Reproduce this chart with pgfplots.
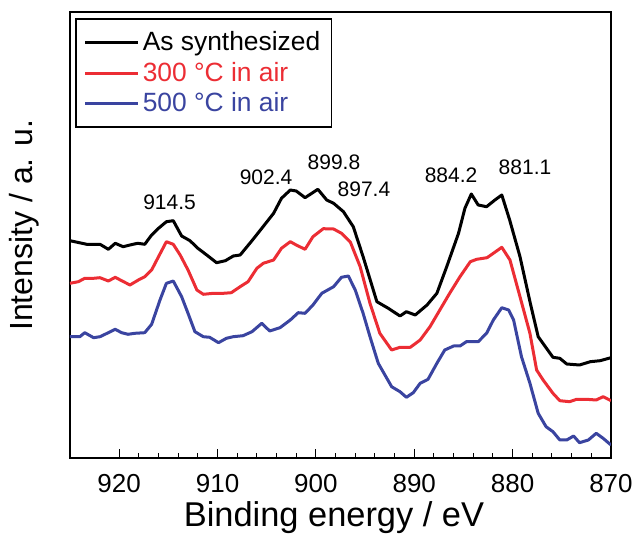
\documentclass[border=0pt]{standalone}
\usepackage{fontspec}
\setmainfont{Liberation Sans}
\usepackage{pgfplots}
\pgfplotsset{compat=1.18}
\definecolor{cred}{RGB}{236,45,52}
\definecolor{cblue}{RGB}{58,68,160}
\begin{document}
\begin{tikzpicture}
\useasboundingbox (-35pt,-38.5pt) rectangle (284pt,229pt);
\begin{axis}[
    at={(0,0)}, anchor=south west,
    scale only axis,
    width=270.5pt, height=223pt,
    x dir=reverse,
    xmin=870, xmax=925,
    ymin=0, ymax=446,
    xtick={870,880,...,920},
    minor x tick num=4,
    xtick pos=bottom,
    tick align=inside,
    major tick length=4.5pt,
    minor tick length=2.5pt,
    every tick/.style={black, line width=0.5pt},
    ytick=\empty,
    axis line style={line width=0.8pt},
    /pgf/number format/assume math mode=true,
    ticklabel style={font=\fontsize{13}{15}\selectfont},
    xticklabel style={yshift=-4.5pt},
    xlabel={Binding energy / eV},
    ylabel={Intensity / a. u.},
    every axis x label/.style={at={(rel axis cs:0.488,0)}, anchor=base, yshift=-34.5pt,
        font=\fontsize{17.2}{19}\selectfont},
    every axis y label/.style={at={(rel axis cs:-0.085,0.522)}, rotate=90, anchor=center,
        font=\fontsize{16}{18}\selectfont},
    legend cell align=left,
    legend style={
        at={(rel axis cs:0.0092,0.9865)}, anchor=north west,
        line width=0.8pt,
        font=\fontsize{13.2}{14.5}\selectfont,
        inner xsep=4pt, inner ysep=5pt, row sep=1pt,
        nodes={inner sep=1.5pt},
    },
    legend image code/.code={\draw[#1, line width=1.5pt] (0pt,0pt) -- (26.5pt,0pt);},
    every axis plot/.append style={line width=1.5pt, line join=round},
]
\addplot[black] coordinates {
(925,217.3) (923.3,213.7) (921.95,213.7) (921.1,208.7) (920.4,214.7)
(919.6,211.3) (918.6,213.7) (918.1,214.7) (917.4,213.7) (916.7,223)
(916.0,229.7) (915.2,236.3) (914.5,237.3) (913.65,222) (912.8,217.3)
(912.0,209.7) (911.1,203) (910.1,195.3) (909.2,197.3) (908.4,202)
(907.7,203) (906.5,217.3) (905.5,229.7) (904.3,244.7) (903.5,259.7)
(902.6,268) (902.0,267) (901.1,260.3) (899.8,268.7) (898.9,258)
(898.2,254.7) (897.2,246.3) (896.2,231.3) (895.2,201.3) (893.8,156.3)
(892.64,149.7) (891.45,142) (890.8,146.3) (889.9,143) (888.7,153)
(887.7,164.7) (886.7,191.3) (885.5,224.7) (884.85,249.7) (884.2,264)
(883.5,253) (882.65,251.3) (881.8,258) (881.1,263) (880.3,238)
(879.25,201.3) (878.2,154.7) (877.4,121.3) (875.9,100.7) (875.2,99.7)
(874.5,94) (873.2,93) (872.1,96.3) (871.1,97.3) (870,100.3)
};
\addplot[cred] coordinates {
(925,174.7) (924.15,176.3) (923.5,179.7) (922.6,179.7) (921.95,180.3)
(921.1,177) (920.4,180.7) (919.75,177.3) (918.9,173) (918.05,178)
(917.4,181.3) (916.7,188) (916.0,201.3) (915.2,216.3) (914.5,213.7)
(913.8,203) (913.0,188) (912.1,168) (911.45,163.7) (910.4,164.7)
(909.4,164.7) (908.6,165.3) (907.7,171.3) (906.9,176.3) (906.0,189.7)
(905.35,194.7) (904.3,198) (903.5,209.7) (902.6,216.3) (902.0,213)
(901.1,208.7) (900.3,221.3) (899.25,229.3) (898.2,229) (897.4,224.7)
(896.5,216) (895.5,191.3) (894.5,154.7) (893.5,124.7) (892.3,108)
(891.45,110.7) (890.4,110.7) (889.4,118) (888.4,131.3) (887.4,148)
(886.4,164.7) (885.35,181.3) (884.3,196.3) (883.65,198.7) (882.6,200.3)
(881.96,204.7) (881.1,210.7) (880.27,198) (879.25,161.3) (878.24,124.7)
(877.56,88) (876.9,78) (875.9,64.7) (875.2,57.3) (874.2,56.3)
(873.5,58.7) (872.5,58.7) (871.5,58) (870.8,61.3) (870,57.3)
};
\addplot[cblue] coordinates {
(925,121.3) (924,121.3) (923.5,125.3) (922.6,120.3) (921.95,121.3)
(921.1,125.3) (920.4,128.7) (919.75,125.3) (919.1,123.7) (918.4,124.7)
(917.4,125.3) (916.7,133.7) (915.85,158) (915.2,174.7) (914.5,177)
(913.65,161.3) (913.0,144.7) (912.3,126.3) (911.45,121.3) (910.8,120.7)
(909.9,115.3) (909.1,119.7) (908.4,121.3) (907.4,122.3) (906.5,126.3)
(905.5,134.7) (904.7,127) (903.65,130.3) (902.6,138) (901.8,145.3)
(901.1,144.7) (900.3,153) (899.4,164.7) (898.2,171.3) (897.4,180.7)
(896.7,182) (896.0,168) (895.2,144.7) (894.5,121.3) (893.66,94.7)
(892.3,71.3) (891.45,66.3) (890.8,60.7) (890.1,65.3) (889.4,74.7)
(888.6,78.7) (887.7,94.7) (886.9,108) (886.0,112) (885.35,112)
(884.7,116.3) (883.5,116.3) (882.65,124.7) (881.96,138) (881.1,150.3)
(880.4,148) (879.9,138) (879.1,101.3) (878.24,74.7) (877.4,44.7)
(876.6,31.3) (875.9,26.3) (875.2,18) (874.5,18) (873.8,22)
(873.2,15.3) (872.3,18) (871.5,24.7) (870.8,19.7) (870,13)
};
\legend{As synthesized,\textcolor{cred}{300 °C in air},\textcolor{cblue}{500 °C in air}}
\begin{scope}[every node/.style={font=\fontsize{10.5}{12}\selectfont, inner sep=0pt}]
\node at (axis cs:914.88,256) {914.5};
\node at (axis cs:905.07,280.5) {902.4};
\node at (axis cs:898.16,295.5) {899.8};
\node at (axis cs:895.11,268.5) {897.4};
\node at (axis cs:886.26,282.5) {884.2};
\node at (axis cs:878.74,290.5) {881.1};
\end{scope}
\end{axis}
\end{tikzpicture}
\end{document}
